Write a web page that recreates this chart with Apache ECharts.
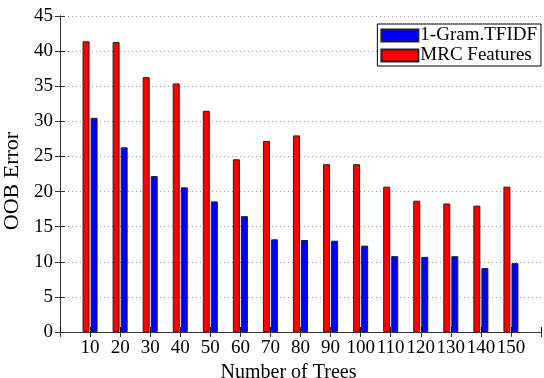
<!DOCTYPE html>
<html>
<head>
<meta charset="utf-8">
<script src="https://cdn.jsdelivr.net/npm/echarts@6/dist/echarts.min.js"></script>
<style>
  html, body { margin: 0; padding: 0; background: #fff; }
  #chart { width: 544px; height: 378px; }
</style>
</head>
<body>
<div id="chart"></div>
<script>
// Number of trees in the forest (one group of bars per value)
const treeCounts = ['10', '20', '30', '40', '50', '60', '70', '80', '90', '100', '110', '120', '130', '140', '150'];
// Out-of-bag error for each feature set
const mrcFeatures = [41.4, 41.3, 36.3, 35.4, 31.5, 24.6, 27.2, 28.0, 23.9, 23.9, 20.7, 18.7, 18.3, 18.0, 20.7];
const gramTfidf = [30.5, 26.3, 22.2, 20.6, 18.6, 16.5, 13.2, 13.1, 13.0, 12.3, 10.8, 10.7, 10.8, 9.1, 9.8];
// Y axis range and step
const yMin = 0, yMax = 45, yStep = 5;

const FONT = 'Liberation Serif';
const AXIS_COLOR = '#333';

// Bars sit at positions 1..N on a numeric axis padded by one slot each side
const toPoints = vals => vals.map((v, i) => [i + 1, v]);
const xLabel = v => treeCounts[v - 1] || '';

const chart = echarts.init(document.getElementById('chart'), null, { renderer: 'canvas' });
chart.setOption({
  animation: false,
  backgroundColor: '#fff',
  grid: { left: 60, right: 3, top: 16, bottom: 46, containLabel: false, outerBoundsMode: 'none' },
  legend: {
    data: ['1-Gram.TFIDF', 'MRC Features'],
    orient: 'vertical',
    right: 3,
    top: 24,
    icon: 'rect',
    itemWidth: 37,
    itemHeight: 12,
    itemGap: 1,
    padding: [2, 4, 1, 3],
    borderColor: '#000',
    borderWidth: 1,
    borderRadius: 0,
    backgroundColor: '#fff',
    textStyle: { fontFamily: FONT, fontSize: 19, color: '#000', lineHeight: 17, padding: [0, 0, 0, -3] }
  },
  xAxis: [
    {
      type: 'value', min: 0, max: treeCounts.length + 1, interval: 1,
      position: 'bottom', z: 3,
      name: 'Number of Trees', nameLocation: 'middle', nameGap: 29,
      nameTextStyle: { fontFamily: FONT, fontSize: 20, color: '#000', padding: [0, 24, 0, 0] },
      axisLine: { lineStyle: { color: AXIS_COLOR, width: 1 } },
      axisTick: { inside: true, length: 5, lineStyle: { color: '#000' } },
      axisLabel: { formatter: xLabel, fontFamily: FONT, fontSize: 19, color: '#000', margin: 7 },
      splitLine: { show: false }
    },
    {
      type: 'value', min: 0, max: treeCounts.length + 1, interval: 1,
      position: 'top',
      axisLine: { lineStyle: { color: AXIS_COLOR, width: 1 } },
      axisTick: { inside: true, length: 5, lineStyle: { color: AXIS_COLOR } },
      axisLabel: { show: false },
      splitLine: { show: false }
    }
  ],
  yAxis: [
    {
      type: 'value', min: yMin, max: yMax, interval: yStep,
      position: 'left',
      name: 'OOB Error', nameLocation: 'middle', nameGap: 35, nameRotate: 90,
      nameTextStyle: { fontFamily: FONT, fontSize: 22, color: '#000', padding: [0, 14, 0, 0] },
      axisLine: { show: true, lineStyle: { color: AXIS_COLOR, width: 1 } },
      axisTick: { show: true, inside: true, length: 5, lineStyle: { color: AXIS_COLOR } },
      axisLabel: { fontFamily: FONT, fontSize: 19, color: '#000', margin: 7 },
      splitLine: { show: true, lineStyle: { color: '#999', type: [1, 3], width: 1 } }
    },
    {
      type: 'value', min: yMin, max: yMax, interval: yStep,
      position: 'right',
      axisLine: { show: true, lineStyle: { color: AXIS_COLOR, width: 1 } },
      axisTick: { show: true, inside: true, length: 5, lineStyle: { color: AXIS_COLOR } },
      axisLabel: { show: false },
      splitLine: { show: false }
    }
  ],
  series: [
    {
      name: 'MRC Features', type: 'bar', xAxisIndex: 0, yAxisIndex: 0,
      data: toPoints(mrcFeatures),
      barWidth: 7, barGap: '15%',
      itemStyle: { color: '#ff0000', borderColor: '#222', borderWidth: 1 }
    },
    {
      name: '1-Gram.TFIDF', type: 'bar', xAxisIndex: 0, yAxisIndex: 0,
      data: toPoints(gramTfidf),
      barWidth: 7, barGap: '15%',
      itemStyle: { color: '#0000ff', borderColor: '#222', borderWidth: 1 }
    }
  ]
});
</script>
</body>
</html>
